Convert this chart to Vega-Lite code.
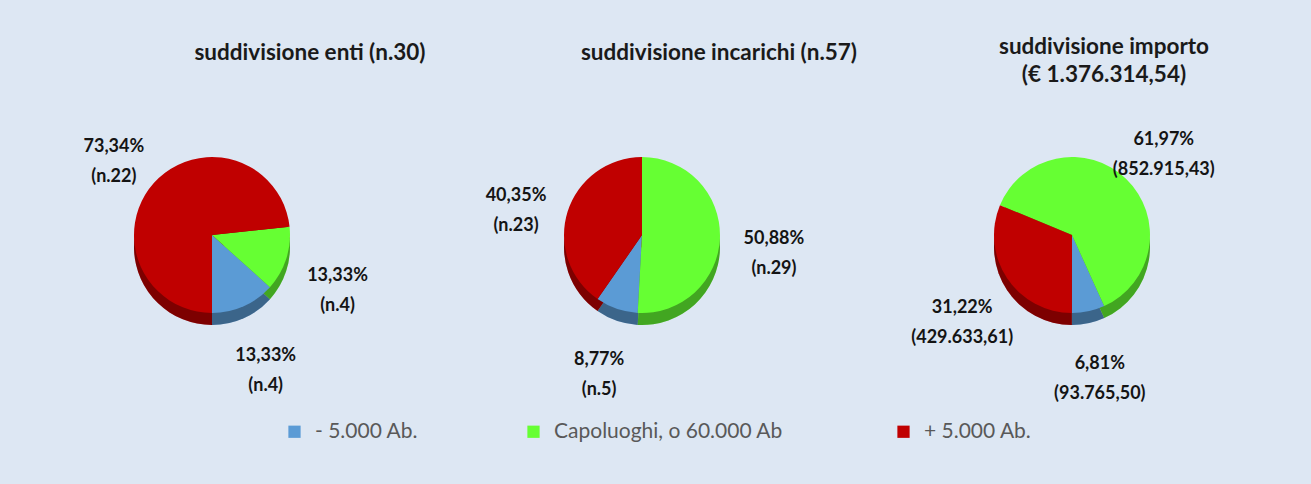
{
  "$schema": "https://vega.github.io/schema/vega-lite/v6.json",
  "background": "#dde7f3",
  "padding": {"left": 0, "top": 35, "right": 27, "bottom": 48},
  "spacing": 6,
  "bounds": "flush",
  "resolve": {"scale": {"theta": "independent"}},
  "config": {
    "view": {"stroke": null},
    "font": "Lato",
    "title": {"font": "Lato", "fontSize": 22.5, "fontWeight": "bold", "color": "#1a1a1a", "anchor": "middle", "lineHeight": 28}
  },
  "hconcat": [
    {
      "title": {"text": "suddivisione enti (n.30)", "dx": 98, "offset": 40},
      "width": 424,
      "height": 262,
      "data": {"values": [
        {"cat": "- 5.000 Ab.", "v": 4, "lab": "13,33%\n(n.4)"},
        {"cat": "Capoluoghi, o  60.000 Ab", "v": 4, "lab": "13,33%\n(n.4)"},
        {"cat": "+ 5.000 Ab.", "v": 22, "lab": "73,34%\n(n.22)"}
      ]},
      "encoding": {
        "theta": {"field": "v", "type": "quantitative", "stack": true, "scale": {"range": [1.466, 7.749]}},
        "order": {"field": "cat", "sort": "descending"},
        "detail": {"field": "cat"},
        "color": {"field": "cat", "type": "nominal",
          "scale": {"domain": ["- 5.000 Ab.", "Capoluoghi, o  60.000 Ab", "+ 5.000 Ab."], "range": ["#5b9bd5", "#66ff33", "#c00000"]},
          "legend": {"orient": "none", "legendX": 284, "legendY": 317, "direction": "horizontal", "title": null, "symbolType": "square", "symbolSize": 150, "labelFontSize": 21, "labelColor": "#595959", "labelFont": "Lato", "labelLimit": 500, "labelOffset": 10, "columnPadding": 104}}
      },
      "layer": [
        {"mark": {"type": "arc", "outerRadius": 78, "yOffset": 12}},
        {"mark": {"type": "arc", "outerRadius": 78, "yOffset": 12, "opacity": 0.35}, "encoding": {"color": {"value": "black"}}},
        {"mark": {"type": "arc", "outerRadius": 78}},
        {"mark": {"type": "text", "radius": 132, "lineBreak": "\n", "fontSize": 18, "fontWeight": "bold", "font": "Lato", "lineHeight": 30}, "encoding": {"text": {"field": "lab"}, "color": {"value": "#141414"}}}
      ]
    },
    {
      "title": {"text": "suddivisione incarichi (n.57)", "dx": 77, "offset": 40},
      "width": 424,
      "height": 262,
      "data": {"values": [
        {"cat": "- 5.000 Ab.", "v": 5, "lab": "8,77%\n(n.5)"},
        {"cat": "Capoluoghi, o  60.000 Ab", "v": 29, "lab": "50,88%\n(n.29)"},
        {"cat": "+ 5.000 Ab.", "v": 23, "lab": "40,35%\n(n.23)"}
      ]},
      "encoding": {
        "theta": {"field": "v", "type": "quantitative", "stack": true, "scale": {"range": [0, 6.2832]}},
        "order": {"field": "cat", "sort": "descending"},
        "detail": {"field": "cat"},
        "color": {"field": "cat", "type": "nominal"}
      },
      "layer": [
        {"mark": {"type": "arc", "outerRadius": 78, "yOffset": 12}},
        {"mark": {"type": "arc", "outerRadius": 78, "yOffset": 12, "opacity": 0.35}, "encoding": {"color": {"value": "black"}}},
        {"mark": {"type": "arc", "outerRadius": 78}},
        {"mark": {"type": "text", "radius": 132, "lineBreak": "\n", "fontSize": 18, "fontWeight": "bold", "font": "Lato", "lineHeight": 30}, "encoding": {"text": {"field": "lab"}, "color": {"value": "#141414"}}}
      ]
    },
    {
      "title": {"text": ["suddivisione importo", "(€ 1.376.314,54)"], "dx": 32, "offset": 18},
      "width": 424,
      "height": 262,
      "data": {"values": [
        {"cat": "- 5.000 Ab.", "v": 93765.50, "lab": "6,81%\n(93.765,50)"},
        {"cat": "Capoluoghi, o  60.000 Ab", "v": 852915.43, "lab": "61,97%\n(852.915,43)"},
        {"cat": "+ 5.000 Ab.", "v": 429633.61, "lab": "31,22%\n(429.633,61)"}
      ]},
      "encoding": {
        "theta": {"field": "v", "type": "quantitative", "stack": true, "scale": {"range": [5.105, 11.388]}},
        "order": {"field": "cat", "sort": "descending"},
        "detail": {"field": "cat"},
        "color": {"field": "cat", "type": "nominal"}
      },
      "layer": [
        {"mark": {"type": "arc", "outerRadius": 78, "yOffset": 12}},
        {"mark": {"type": "arc", "outerRadius": 78, "yOffset": 12, "opacity": 0.35}, "encoding": {"color": {"value": "black"}}},
        {"mark": {"type": "arc", "outerRadius": 78}},
        {"mark": {"type": "text", "radius": 132, "lineBreak": "\n", "fontSize": 18, "fontWeight": "bold", "font": "Lato", "lineHeight": 30}, "encoding": {"text": {"field": "lab"}, "color": {"value": "#141414"}}}
      ]
    }
  ]
}
